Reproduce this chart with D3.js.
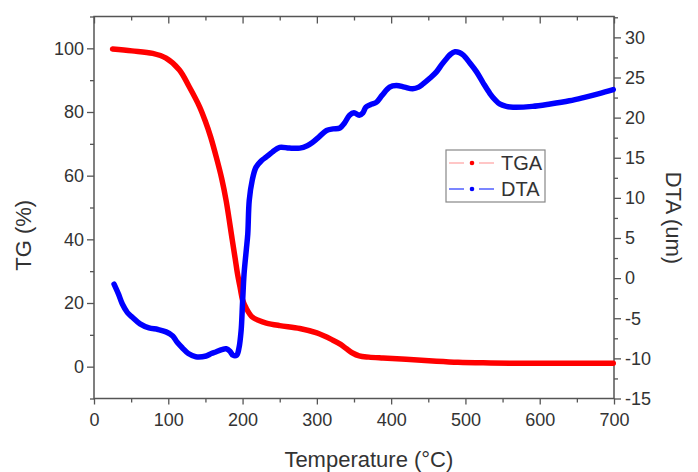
<!DOCTYPE html>
<html>
<head>
<meta charset="utf-8">
<script src="https://cdn.jsdelivr.net/npm/d3@7"></script>
<style>
  html, body { margin: 0; padding: 0; background: #fff; }
  svg { display: block; font-family: "Liberation Sans", Arial, sans-serif; }
</style>
</head>
<body>
<div id="chart"></div>
<script>
// TGA / DTA thermal curves

const tgaTemp  = [25, 51, 79, 97, 115, 128, 142, 150, 157, 165, 172, 178, 186, 190, 193, 197, 200, 205, 213, 222, 232, 250, 277, 300, 321, 332, 340, 348, 357, 370, 389, 420, 456, 490, 524, 560, 620, 699];
const tgaValue = [99.8, 99.2, 98.4, 96.9, 93.2, 88.0, 81.7, 77.0, 72.2, 65.5, 59.0, 52.0, 40.0, 34.0, 29.4, 24.5, 21.0, 18.3, 15.6, 14.5, 13.7, 12.9, 12.0, 10.6, 8.4, 7.0, 5.6, 4.3, 3.4, 3.0, 2.7, 2.3, 1.8, 1.4, 1.2, 1.1, 1.1, 1.1];

const dtaTemp  = [27, 33, 38, 45, 52, 62, 74, 86, 97, 106, 112, 119, 127, 137, 151, 158, 164, 172, 178, 183, 187, 192, 195, 198, 200, 202, 205, 207, 209, 213, 218, 225, 232, 240, 250, 263, 277, 287, 294, 303, 313, 322, 331, 337, 344, 350, 357, 362, 366, 372, 380, 388, 398, 407, 418, 429, 437, 443, 452, 461, 468, 475, 480, 486, 492, 497, 506, 515, 524, 533, 540, 546, 555, 564, 590, 614, 640, 659, 680, 699];
const dtaValue = [-0.75, -2.0, -3.2, -4.3, -4.9, -5.7, -6.2, -6.4, -6.7, -7.2, -8.0, -8.7, -9.4, -9.8, -9.7, -9.4, -9.2, -8.9, -8.8, -9.1, -9.6, -9.6, -8.8, -6.6, -3.0, 0.5, 3.5, 5.5, 9.7, 12.2, 13.8, 14.6, 15.1, 15.7, 16.3, 16.2, 16.2, 16.5, 16.9, 17.6, 18.4, 18.6, 18.7, 19.3, 20.3, 20.6, 20.3, 20.6, 21.3, 21.6, 21.9, 22.8, 23.8, 24.0, 23.8, 23.6, 23.8, 24.2, 24.9, 25.7, 26.6, 27.4, 27.9, 28.2, 28.1, 27.8, 26.8, 25.7, 24.3, 23.0, 22.2, 21.7, 21.4, 21.3, 21.4, 21.7, 22.1, 22.5, 23.0, 23.5];

const xTicks      = [0, 100, 200, 300, 400, 500, 600, 700];
const tgTicks     = [0, 20, 40, 60, 80, 100];
const dtaTicks    = [-15, -10, -5, 0, 5, 10, 15, 20, 25, 30];
const seriesNames = ["TGA", "DTA"];

const W = 698, H = 472;
const margin = {top: 16.5, right: 84, bottom: 73.5, left: 94};
const width = W - margin.left - margin.right;
const height = H - margin.top - margin.bottom;

const axisColor = "#555";
const textColor = "#333";

const svg = d3.select("#chart")
  .append("svg")
  .attr("width", W)
  .attr("height", H);

const g = svg.append("g")
  .attr("transform", `translate(${margin.left}, ${margin.top})`);

// Scales
const x = d3.scaleLinear().domain([0, 700]).range([0, width]);
const yTG = d3.scaleLinear().domain([-10, 110]).range([height, 0]);
const yDTA = d3.scaleLinear().domain([-15, 32.6]).range([height, 0]);

// minor tick values
const xMinor = d3.range(50, 700, 100);
const tgMinor = d3.range(-10, 111, 20);
const dtaMinor = d3.range(-12.5, 32.6, 5);

// plain hyphen for negatives, like the original
const plain = d => String(d);

function styleAxis(sel, fontSize) {
  sel.select(".domain").remove();
  sel.selectAll("line").attr("stroke", axisColor).attr("stroke-width", 1.3);
  sel.selectAll("text")
    .attr("fill", textColor)
    .style("font-size", fontSize + "px")
    .style("font-family", "'Liberation Sans', Arial, sans-serif");
}

// Bottom axis
g.append("g")
  .attr("transform", `translate(0, ${height})`)
  .call(d3.axisBottom(x).tickValues(xTicks).tickFormat(plain).tickSize(6).tickPadding(9))
  .call(s => styleAxis(s, 18));
g.append("g")
  .attr("transform", `translate(0, ${height})`)
  .call(d3.axisBottom(x).tickValues(xMinor).tickSize(4).tickFormat(""))
  .call(s => styleAxis(s, 18));

// Top axis, ticks point inward
g.append("g")
  .call(d3.axisTop(x).tickValues(xTicks).tickSize(-7).tickFormat(""))
  .call(s => styleAxis(s, 18));
g.append("g")
  .call(d3.axisTop(x).tickValues(xMinor).tickSize(-4).tickFormat(""))
  .call(s => styleAxis(s, 18));

// Left axis (TG)
g.append("g")
  .call(d3.axisLeft(yTG).tickValues(tgTicks).tickFormat(plain).tickSize(7).tickPadding(3))
  .call(s => styleAxis(s, 18));
g.append("g")
  .call(d3.axisLeft(yTG).tickValues(tgMinor).tickSize(4).tickFormat(""))
  .call(s => styleAxis(s, 18));

// Right axis (DTA)
g.append("g")
  .attr("transform", `translate(${width}, 0)`)
  .call(d3.axisRight(yDTA).tickValues(dtaTicks).tickFormat(plain).tickSize(7).tickPadding(4))
  .call(s => styleAxis(s, 18));
g.append("g")
  .attr("transform", `translate(${width}, 0)`)
  .call(d3.axisRight(yDTA).tickValues(dtaMinor).tickSize(4).tickFormat(""))
  .call(s => styleAxis(s, 18));

// Frame
g.append("rect")
  .attr("width", width)
  .attr("height", height)
  .attr("fill", "none")
  .attr("stroke", axisColor)
  .attr("stroke-width", 1.5);

// Curves
const tgaData = tgaTemp.map((t, i) => ({t: t, v: tgaValue[i]}));
const dtaData = dtaTemp.map((t, i) => ({t: t, v: dtaValue[i]}));

const tgaLine = d3.line()
  .x(d => x(d.t))
  .y(d => yTG(d.v))
  .curve(d3.curveCatmullRom.alpha(0.5));

const dtaLine = d3.line()
  .x(d => x(d.t))
  .y(d => yDTA(d.v))
  .curve(d3.curveCatmullRom.alpha(0.5));

g.append("path")
  .datum(tgaData)
  .attr("d", tgaLine)
  .attr("fill", "none")
  .attr("stroke", "#f00")
  .attr("stroke-width", 5.5)
  .attr("stroke-linejoin", "round")
  .attr("stroke-linecap", "round");

g.append("path")
  .datum(dtaData)
  .attr("d", dtaLine)
  .attr("fill", "none")
  .attr("stroke", "#00f")
  .attr("stroke-width", 5.5)
  .attr("stroke-linejoin", "round")
  .attr("stroke-linecap", "round");

// Axis titles
svg.append("text")
  .attr("transform", `translate(31, ${margin.top + yTG(40) - 4}) rotate(-90)`)
  .attr("text-anchor", "middle")
  .attr("fill", textColor)
  .style("font-size", "22px")
  .text("TG (%)");

svg.append("text")
  .attr("transform", `translate(666, ${margin.top + yDTA(7.5)}) rotate(90)`)
  .attr("text-anchor", "middle")
  .attr("fill", textColor)
  .style("font-size", "22px")
  .text("DTA (um)");

svg.append("text")
  .attr("x", margin.left + x(370))
  .attr("y", 467)
  .attr("text-anchor", "middle")
  .attr("fill", textColor)
  .style("font-size", "22px")
  .text("Temperature (\u00B0C)");

// Legend
const legend = svg.append("g").attr("transform", "translate(446, 150)");
legend.append("rect")
  .attr("width", 99)
  .attr("height", 52)
  .attr("fill", "#fff")
  .attr("stroke", "#888")
  .attr("stroke-width", 1.2);

const legendColors = {TGA: {line: "#ffa8a8", dot: "#f00"}, DTA: {line: "#3344ff", dot: "#00f"}};

seriesNames.forEach((name, i) => {
  const ly = 13 + i * 26;
  const c = legendColors[name];
  legend.append("line")
    .attr("x1", 3).attr("x2", 18).attr("y1", ly).attr("y2", ly)
    .attr("stroke", c.line).attr("stroke-width", 1.3);
  legend.append("line")
    .attr("x1", 33).attr("x2", 48).attr("y1", ly).attr("y2", ly)
    .attr("stroke", c.line).attr("stroke-width", 1.3);
  legend.append("circle")
    .attr("cx", 26).attr("cy", ly).attr("r", 2.3)
    .attr("fill", c.dot);
  legend.append("text")
    .attr("x", 55)
    .attr("y", ly)
    .attr("dy", "0.36em")
    .attr("fill", textColor)
    .style("font-size", "20px")
    .text(name);
});
</script>
</body>
</html>
